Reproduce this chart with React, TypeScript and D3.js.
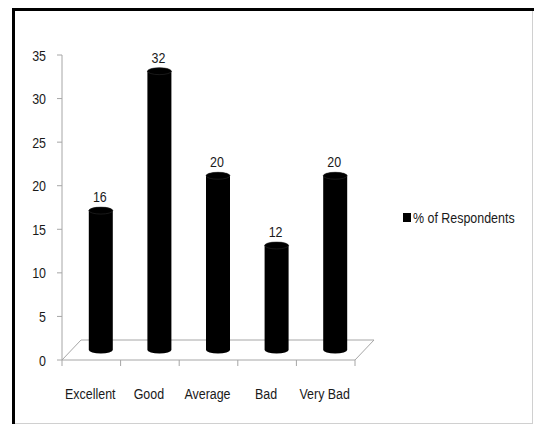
import { useRef, useEffect } from 'react'
import * as d3 from 'd3';

const categories = ["Excellent", "Good", "Average", "Bad", "Very Bad"];
const respondents = [16, 32, 20, 12, 20];
const yTicks = [0, 5, 10, 15, 20, 25, 30, 35];
const seriesName = "% of Respondents";

const FONT = "'Liberation Sans', Arial, sans-serif";
const FONT_SIZE = 15;
const SQUEEZE = 0.83; // the original font is condensed

function App() {
    const ref = useRef(null);

    const width = 534;
    const height = 426;

    useEffect(() => {
        const svg = d3.select(ref.current);
        svg.selectAll("*").remove();

        // narrow text: place at (px, py) then squeeze horizontally
        function label(g, px, py, txt, anchor) {
            return g.append("text")
                    .attr("transform", `translate(${px},${py}) scale(${SQUEEZE},1)`)
                    .attr("text-anchor", anchor)
                    .attr("font-family", FONT)
                    .attr("font-size", FONT_SIZE)
                    .attr("fill", "#1a1a1a")
                    .text(txt);
        }

        // box with heavy top/left edge, light bottom/right
        svg.append("rect")
           .attr("x", 13.5).attr("y", 9.5)
           .attr("width", 519).attr("height", 414)
           .attr("fill", "white").attr("stroke", "#d0d0d0").attr("stroke-width", 1);
        svg.append("path")
           .attr("d", "M13.5,424 L13.5,9.5 L534,9.5")
           .attr("fill", "none").attr("stroke", "black").attr("stroke-width", 3);

        const x = d3.scaleBand().domain(categories).range([62, 355]).padding(0);
        const y = d3.scaleLinear().domain([0, 35]).range([360, 55]);

        // depth of the floor
        const depthX = 19;
        const depthY = -20;
        const axisColor = "#a6a6a6";

        // floor
        const x0 = x.range()[0];
        const x1 = x.range()[1];
        const y0 = y(0);
        svg.append("path")
           .attr("d", `M${x0},${y0} L${x1},${y0} L${x1 + depthX},${y0 + depthY} L${x0 + depthX},${y0 + depthY} Z`)
           .attr("fill", "none").attr("stroke", axisColor).attr("stroke-width", 1);

        // y axis
        const ya = svg.append("g");
        ya.append("line")
          .attr("x1", x0).attr("x2", x0)
          .attr("y1", y(35)).attr("y2", y0)
          .attr("stroke", axisColor);
        ya.selectAll("line.tick")
          .data(yTicks)
          .join("line")
          .attr("class", "tick")
          .attr("x1", x0 - 5).attr("x2", x0)
          .attr("y1", (d) => y(d)).attr("y2", (d) => y(d))
          .attr("stroke", axisColor);
        yTicks.forEach((d) => label(ya, 46, y(d) + 5.5, d, "end"));

        // x ticks at band edges
        const edges = categories.map((c) => x(c)).concat([x1]);
        svg.append("g")
           .selectAll("line")
           .data(edges)
           .join("line")
           .attr("x1", (d) => d).attr("x2", (d) => d)
           .attr("y1", y0).attr("y2", y0 + 6)
           .attr("stroke", axisColor);

        const xa = svg.append("g");
        categories.forEach((c) => label(xa, x(c) + x.bandwidth() / 2 - 1, 398.5, c, "middle"));

        // cylinders
        const rx = 12;
        const ry = 3.5;
        const bars = svg.append("g");
        categories.forEach((c, i) => {
            const cx = x(c) + x.bandwidth() / 2 + depthX / 2;
            const bottom = y0 + depthY / 2;
            const top = y(respondents[i]) + depthY / 2;
            bars.append("path")
                .attr("d", `M${cx - rx},${top} L${cx - rx},${bottom} A${rx},${ry} 0 0 0 ${cx + rx},${bottom} L${cx + rx},${top} A${rx},${ry} 0 0 0 ${cx - rx},${top} Z`)
                .attr("fill", "black");
            bars.append("ellipse")
                .attr("cx", cx).attr("cy", top)
                .attr("rx", rx).attr("ry", ry)
                .attr("fill", "black")
                .attr("stroke", "#333").attr("stroke-width", 0.5);
            label(bars, cx - 1, top - ry - 5, respondents[i], "middle");
        });

        // legend
        svg.append("rect")
           .attr("x", 403).attr("y", 213)
           .attr("width", 8).attr("height", 9)
           .attr("fill", "black");
        label(svg, 413, 223, seriesName, "start");
    }, []);

    return (
        <div style={{ position: "fixed", left: 0, top: 0 }}>
            <svg width={width} height={height} ref={ref} style={{ display: "block" }} />
        </div>
    )
}

export default App;
